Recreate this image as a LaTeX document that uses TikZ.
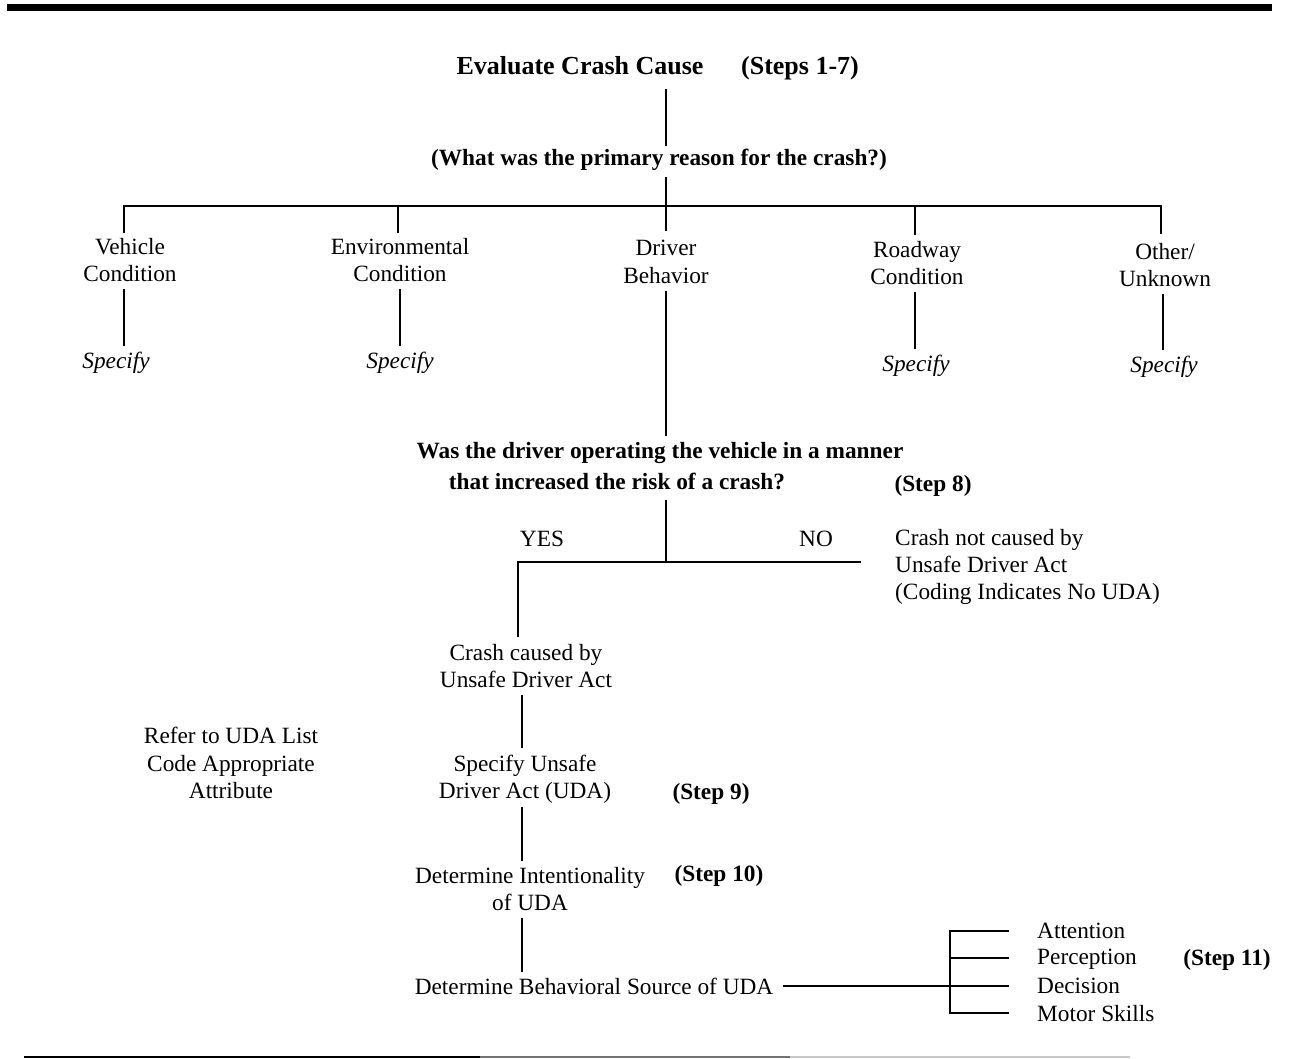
\documentclass[tikz,border=0pt]{standalone}
\usepackage{fontspec}
\setmainfont{Liberation Serif}
\begin{document}
\begin{tikzpicture}[x=1pt,y=-1pt,
  every node/.style={inner sep=0pt, align=center, font=\fontsize{23.3}{27.3}\selectfont},
  bold/.style={font=\fontsize{23.3}{27.3}\selectfont\bfseries},
  titlef/.style={font=\fontsize{26}{30}\selectfont\bfseries},
  spec/.style={font=\fontsize{23.3}{27.3}\selectfont\itshape},
  conn/.style={line width=2pt, line cap=rect}]
\useasboundingbox (0,0) rectangle (1289,1059);
% rules
\coordinate (barL) at (7,7.5); \coordinate (barR) at (1272,7.5);
\draw[line width=6.5pt] (barL) -- (barR);
\coordinate (botL) at (24,1057); \coordinate (botM) at (480,1057);
\coordinate (botN) at (790,1057); \coordinate (botR) at (1130,1057);
\draw[line width=2.5pt, black] (botL) -- (botM);
\draw[line width=2.5pt, black!55] (botM) -- (botN);
\draw[line width=2.5pt, black!22] (botN) -- (botR);

% title
\node[titlef] (title) at (580,66) {Evaluate Crash Cause};
\node[titlef, anchor=base] (steps17) at (title.base -| 800,0) {(Steps 1-7)};
\node[bold] (q1) at (659,160) {(What was the primary reason for the crash?)};

% categories
\node (veh) at (130,260) {Vehicle\\Condition};
\node (env) at (400,260) {Environmental\\Condition};
\node (drv) at (666,262) {Driver\\Behavior};
\node (road) at (917,263) {Roadway\\Condition};
\node (oth) at (1165,265) {Other/\\Unknown};

\node[spec] (s1) at (116,363) {Specify};
\node[spec] (s2) at (400,363) {Specify};
\node[spec] (s4) at (916,366) {Specify};
\node[spec] (s5) at (1164,367) {Specify};

% junctions of the top tree
\coordinate (h0) at (666,206);
\coordinate (h1) at (124,206); \coordinate (h2) at (398,206);
\coordinate (h4) at (915,206); \coordinate (h5) at (1161,206);
\draw[conn] ([yshift=-15pt]title.south -| h0) -- ([yshift=4pt]q1.north -| h0);
\draw[conn] ([yshift=-7pt]q1.south -| h0) -- (h0);
\draw[conn] (h1) -- (h5);
\draw[conn] (h1) -- ++(0,26);
\draw[conn] (h2) -- ++(0,26);
\draw[conn] (h0) -- ++(0,24);
\draw[conn] (h4) -- ++(0,28);
\draw[conn] (h5) -- ++(0,27);

% drops to Specify
\draw[conn] (veh.south -| h1) ++(0,8) -- ([yshift=7pt]s1.north -| h1);
\draw[conn] ([yshift=-8pt]env.south -| s2) -- ([yshift=7pt]s2.north -| s2);
\draw[conn] ([yshift=-8pt]road.south -| h4) -- ([yshift=7pt]s4.north -| h4);
\draw[conn] ([yshift=-8pt]oth.south -| 1163,0) -- ([yshift=7pt]s5.north -| 1163,0);

% step 8 question
\node[bold] (q2a) at (660,453) {Was the driver operating the vehicle in a manner};
\node[bold] (q2b) at (617,481) {that increased the risk of a crash?};
\node[bold, anchor=base] (st8) at ([yshift=-2pt]q2b.base -| 933,0) {(Step 8)};
\draw[conn] ([yshift=-8pt]drv.south -| h0) -- ([yshift=7pt]q2a.north -| h0);

\coordinate (yn) at (666,562);
\coordinate (ynL) at (518,562); \coordinate (ynR) at (860,562);
\draw[conn] ([yshift=-11pt]q2b.south -| yn) -- (yn);
\draw[conn] (ynL) -- (ynR);
\node (yes) at (542,539) {YES};
\node (no) at (816,539) {NO};
\node[align=left, anchor=west] (nouda) at (895,567) {Crash not caused by\\Unsafe Driver Act\\(Coding Indicates No UDA)};

\node (cuda) at (526,666) {Crash caused by\\Unsafe Driver Act};
\draw[conn] (ynL) -- ([yshift=8pt]cuda.north -| ynL);

\node (refer) at (231,763) {Refer to UDA List\\Code Appropriate\\Attribute};

\node (suda) at (525,779) {Specify Unsafe\\Driver Act (UDA)};
\node[bold] (st9) at (711,794) {(Step 9)};
\coordinate (vx) at (522,0);
\draw[conn] ([yshift=-8pt]cuda.south -| vx) -- ([yshift=7pt]suda.north -| vx);

\node (intent) at (530,889) {Determine Intentionality\\of UDA};
\node[bold] (st10) at (719,876) {(Step 10)};
\draw[conn] ([yshift=-4pt]suda.south -| vx) -- ([yshift=7pt]intent.north -| vx);

\node (bsrc) at (594,986) {Determine Behavioral Source of UDA};
\draw[conn] ([yshift=-8pt]intent.south -| vx) -- ([yshift=6pt]bsrc.north -| vx);

% step 11 bracket
\coordinate (b1) at (950,931); \coordinate (b2) at (950,958);
\coordinate (b3) at (950,986); \coordinate (b4) at (950,1013);
\draw[conn] ([xshift=11pt]bsrc.east) -- (b3);
\draw[conn] (b1) -- (b4);
\node[anchor=west] (att) at (1037,931) {Attention};
\node[anchor=west] (per) at (1037,959) {Perception};
\node[anchor=west] (dec) at (1037,986) {Decision};
\node[anchor=west] (mot) at (1037,1014) {Motor Skills};
\node[bold] (st11) at (1227,960) {(Step 11)};
\draw[conn] (b1) -- ([xshift=-29pt]att.west |- b1);
\draw[conn] (b2) -- ([xshift=-29pt]per.west |- b2);
\draw[conn] (b3) -- ([xshift=-29pt]dec.west |- b3);
\draw[conn] (b4) -- ([xshift=-29pt]mot.west |- b4);
\end{tikzpicture}
\end{document}
